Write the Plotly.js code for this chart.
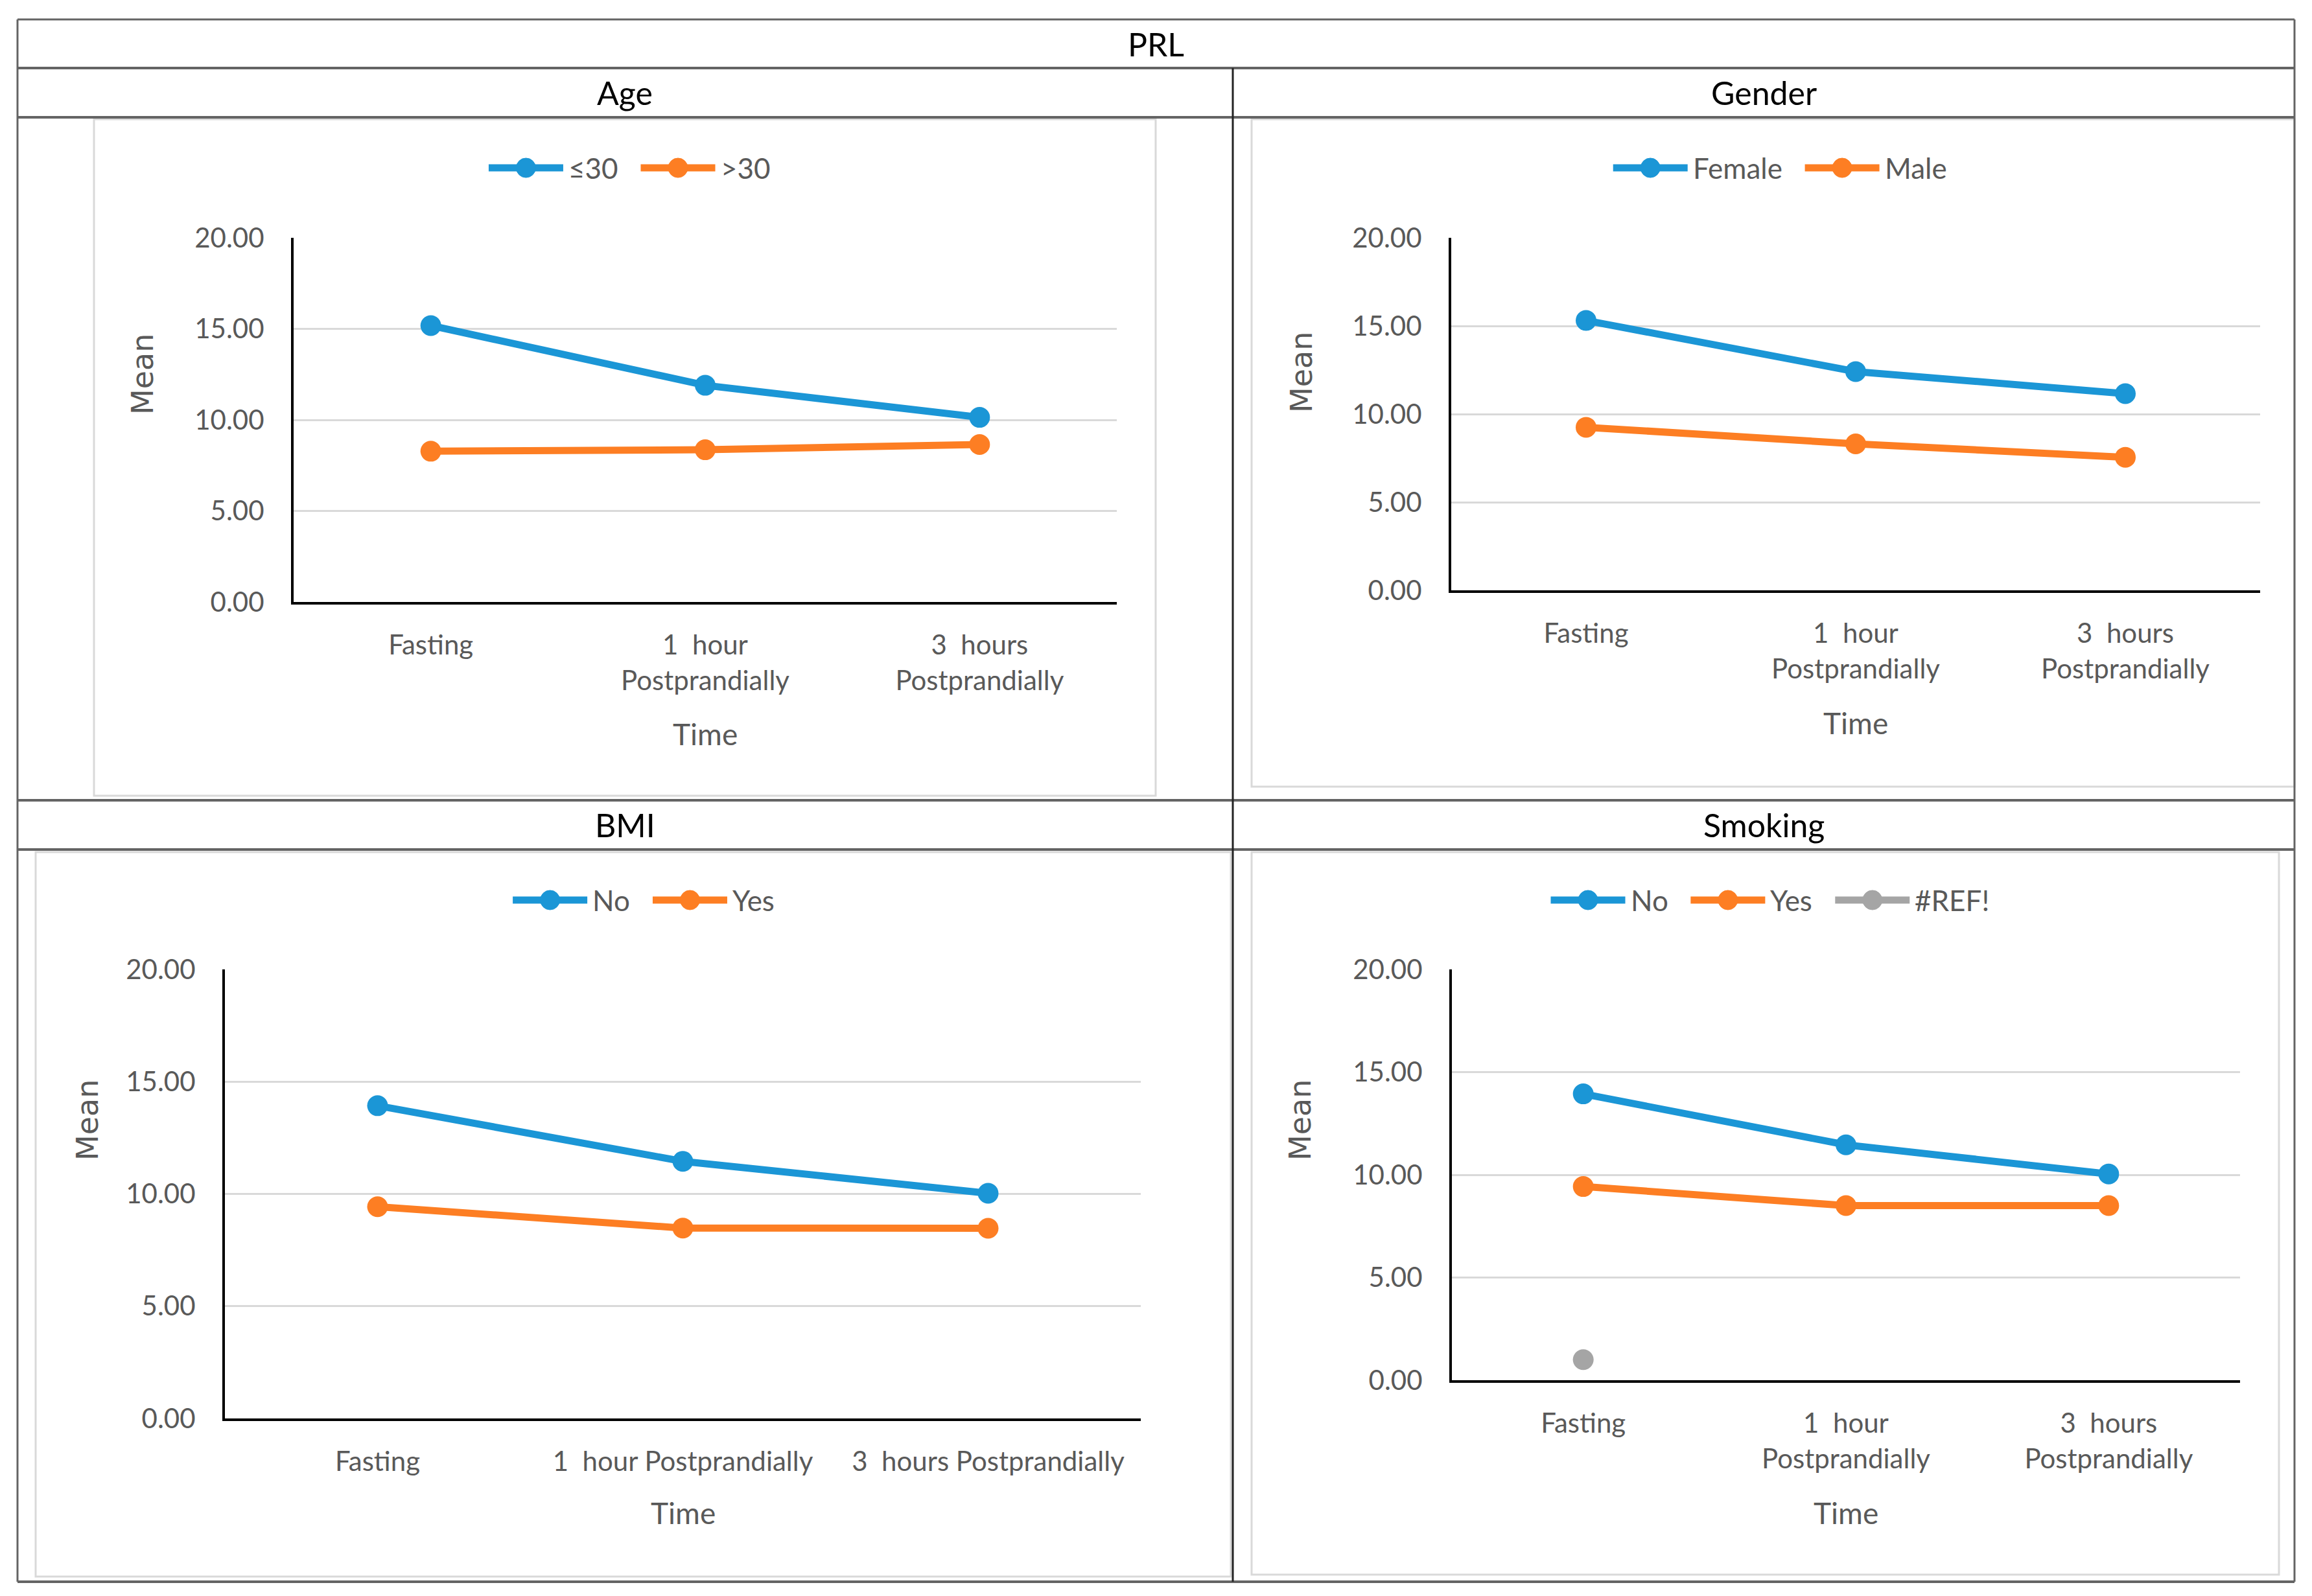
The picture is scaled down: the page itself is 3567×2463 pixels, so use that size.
<!DOCTYPE html>
<html><head><meta charset="utf-8">
<script src="https://cdn.plot.ly/plotly-3.0.1.min.js"></script>
<style>html,body{margin:0;padding:0;background:#fff}#chart{width:3567px;height:2463px}</style>
</head><body><div id="chart"></div>
<script>
// ---------------- DATA ----------------
const timeLabelsTwoLine = ["Fasting", "1\u00a0 hour<br>Postprandially", "3\u00a0 hours<br>Postprandially"];
const timeLabelsOneLine = ["Fasting", "1\u00a0 hour Postprandially", "3\u00a0 hours Postprandially"];
const yTickVals = [0, 5, 10, 15, 20];
const tableTitle = "PRL";
const panelTitles = ["Age", "Gender", "BMI", "Smoking"];
const xAxisTitle = "Time";
const yAxisTitle = "Mean";

const ageNames = ["\u226430", ">30"];
const ageLe30 = [15.18, 11.90, 10.14];
const ageGt30 = [8.28, 8.36, 8.65];

const genderNames = ["Female", "Male"];
const genderFemale = [15.31, 12.41, 11.16];
const genderMale = [9.25, 8.31, 7.55];

const bmiNames = ["No", "Yes"];
const bmiNo = [13.93, 11.45, 10.03];
const bmiYes = [9.43, 8.48, 8.47];

const smokingNames = ["No", "Yes", "#REF!"];
const smokingNo = [13.94, 11.46, 10.04];
const smokingYes = [9.43, 8.50, 8.50];
const smokingRef = [1.00, null, null];

// ---------------- STYLE / LAYOUT ----------------
const W = 3567, H = 2463;
const fx = p => p / W;
const fy = p => 1 - p / H;
const BLUE = "#1B96D6", ORANGE = "#FD7E23", GRAY = "#A5A5A5";
const TXT = "#595959";
const FONT = "Lato, 'Open Sans', sans-serif";

const panels = [
  { title: panelTitles[0], head: [964, 143], plot: [453, 1723, 367, 929], labels: timeLabelsTwoLine,
    series: [[ageNames[0], ageLe30, BLUE], [ageNames[1], ageGt30, ORANGE]],
    legend: [970, 259], mean: [220, 578], timeY: 1132, frame: [145, 1783, 184, 1228] },
  { title: panelTitles[1], head: [2721, 143], plot: [2239, 3487, 367, 911], labels: timeLabelsTwoLine,
    series: [[genderNames[0], genderFemale, BLUE], [genderNames[1], genderMale, ORANGE]],
    legend: [2745, 259], mean: [2008, 574], timeY: 1116, frame: [1931, 3540, 184, 1214] },
  { title: panelTitles[2], head: [964, 1273], plot: [347, 1760, 1496, 2189], labels: timeLabelsOneLine,
    series: [[bmiNames[0], bmiNo, BLUE], [bmiNames[1], bmiYes, ORANGE]],
    legend: [992, 1389], mean: [135, 1729], timeY: 2334, frame: [55, 1899, 1315, 2433] },
  { title: panelTitles[3], head: [2721, 1273], plot: [2240, 3456, 1496, 2130], labels: timeLabelsTwoLine,
    series: [[smokingNames[0], smokingNo, BLUE], [smokingNames[1], smokingYes, ORANGE], [smokingNames[2], smokingRef, GRAY]],
    legend: [2730, 1389], mean: [2006, 1729], timeY: 2334, frame: [1931, 3516, 1315, 2430] }
];

const canvas = document.createElement("canvas");
const ctx = canvas.getContext("2d");
function textW(t, size) { ctx.font = size + "px Lato"; return ctx.measureText(t).width; }

const data = [];
const layout = {
  width: W, height: H, margin: { l: 0, r: 0, t: 0, b: 0 },
  paper_bgcolor: "#fff", plot_bgcolor: "#fff", showlegend: false,
  font: { family: FONT, color: TXT },
  shapes: [], annotations: []
};

function line(x0, y0, x1, y1, color, width) {
  layout.shapes.push({ type: "line", xref: "paper", yref: "paper", x0: fx(x0), y0: fy(y0), x1: fx(x1), y1: fy(y1),
    line: { color: color, width: width }, layer: "above" });
}
function text(t, x, y, size, color, opts) {
  layout.annotations.push(Object.assign({ text: t, xref: "paper", yref: "paper", x: fx(x), y: fy(y),
    showarrow: false, font: { family: FONT, size: size, color: color }, xanchor: "center", yanchor: "middle" }, opts || {}));
}

// chart frames (light gray)
panels.forEach(p => {
  const [a, b, c, d] = p.frame;
  layout.shapes.push({ type: "rect", xref: "paper", yref: "paper", x0: fx(a), x1: fx(b), y0: fy(d), y1: fy(c),
    line: { color: "#D9D9D9", width: 3 }, layer: "below" });
});

// table lines
const TL = "#646464";
line(27, 30, 3540, 30, TL, 3);
line(27, 2441, 3540, 2441, TL, 4);
line(27, 30, 27, 2441, TL, 3);
line(3540, 30, 3540, 2441, TL, 3);
[105, 181, 1235, 1311].forEach(y => line(27, y, 3540, y, TL, 4));
line(1902, 105, 1902, 2441, "#222", 3);
text(tableTitle, 1783, 68, 50, "#000");

panels.forEach((p, i) => {
  const n = i === 0 ? "" : String(i + 1);
  const [x0, x1, y0, y1] = p.plot;
  layout["xaxis" + n] = {
    domain: [fx(x0), fx(x1)], anchor: "y" + n, range: [-0.5, 2.5], tickvals: [0, 1, 2], ticktext: p.labels,
    showgrid: false, zeroline: false, showline: true, linecolor: "#000", linewidth: 4, ticks: "",
    tickfont: { family: FONT, size: 42, color: TXT }, ticklabelstandoff: 27, fixedrange: true
  };
  layout["yaxis" + n] = {
    domain: [fy(y1), fy(y0)], anchor: "x" + n, range: [0, 20], tickvals: yTickVals, tickformat: ".2f",
    showgrid: true, gridcolor: "#D9D9D9", gridwidth: 3, zeroline: false, showline: true, linecolor: "#000", linewidth: 4,
    ticks: "", tickfont: { family: FONT, size: 42, color: TXT }, ticklabelstandoff: 33, fixedrange: true
  };
  p.series.forEach(s => {
    data.push({ type: "scatter", mode: "lines+markers", name: s[0], x: [0, 1, 2], y: s[1],
      xaxis: "x" + n, yaxis: "y" + n, line: { color: s[2], width: 11 }, marker: { color: s[2], size: 32 },
      cliponaxis: false, hoverinfo: "skip" });
  });
  // header
  text(p.title, p.head[0], p.head[1], 50, "#000");
  // axis titles
  text(yAxisTitle, p.mean[0], p.mean[1], 46, TXT, { textangle: -90, font: { family: "'DejaVu Sans', sans-serif", size: 46, color: TXT } });
  text(xAxisTitle, (x0 + x1) / 2, p.timeY, 46, TXT);
  // legend
  const LL = 115, GAP1 = 6, GAP2 = 37, FS = 44;
  let total = 0;
  p.series.forEach((s, k) => { total += LL + GAP1 + textW(s[0], FS) + (k < p.series.length - 1 ? GAP2 : 0); });
  let cx = p.legend[0] - total / 2;
  const ly = p.legend[1];
  p.series.forEach(s => {
    line(cx, ly, cx + LL, ly, s[2], 11);
    const mx = cx + LL / 2, r = 15;
    layout.shapes.push({ type: "circle", xref: "paper", yref: "paper", x0: fx(mx - r), x1: fx(mx + r), y0: fy(ly + r), y1: fy(ly - r),
      fillcolor: s[2], line: { color: s[2], width: 1 }, layer: "above" });
    text(s[0], cx + LL + GAP1, ly, FS, TXT, { xanchor: "left" });
    cx += LL + GAP1 + textW(s[0], FS) + GAP2;
  });
});

Plotly.newPlot("chart", data, layout, { staticPlot: true, displayModeBar: false });
</script>
</body></html>
